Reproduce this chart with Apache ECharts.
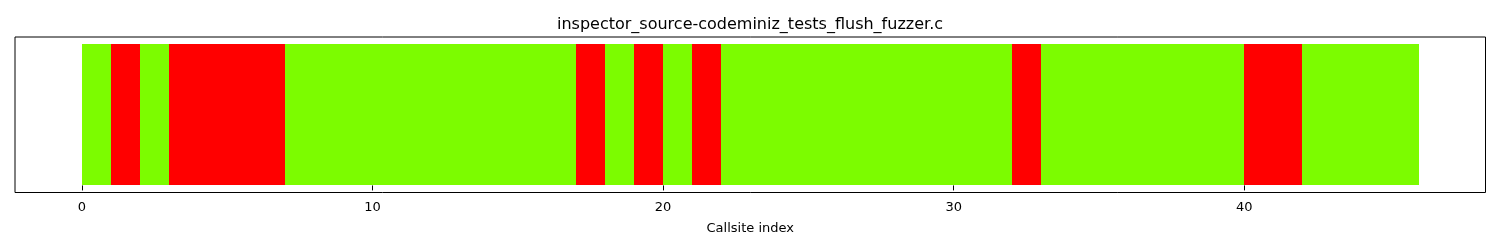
<!DOCTYPE html>
<html>
<head>
<meta charset="utf-8">
<script src="https://cdn.jsdelivr.net/npm/echarts@6/dist/echarts.min.js"></script>
<style>html,body{margin:0;padding:0;background:#fff}#c{width:1500px;height:250px}</style>
</head>
<body>
<div id="c"></div>
<script>
const chartTitle = 'inspector_source-codeminiz_tests_flush_fuzzer.c';
const xAxisLabel = 'Callsite index';
const callsiteIndex = [0,1,2,3,4,5,6,7,8,9,10,11,12,13,14,15,16,17,18,19,20,21,22,23,24,25,26,27,28,29,30,31,32,33,34,35,36,37,38,39,40,41,42,43,44,45];
// 1 = hit (green), 0 = not hit (red)
const hitFlags = [1,0,1,0,0,0,0,1,1,1,1,1,1,1,1,1,1,0,1,0,1,0,1,1,1,1,1,1,1,1,1,1,0,1,1,1,1,1,1,1,0,0,1,1,1,1];
const tickValues = [0,10,20,30,40];

const HIT = '#7cfc00', MISS = '#ff0000';
const data = callsiteIndex.map((x, i) => ({
  value: [x, x + 1],
  itemStyle: { color: hitFlags[i] ? HIT : MISS }
}));

const chart = echarts.init(document.getElementById('c'), null, { renderer: 'canvas' });
const font = 'DejaVu Sans';
chart.setOption({
  animation: false,
  title: {
    text: chartTitle, left: 'center', top: 12,
    textStyle: { fontFamily: font, fontSize: 16, fontWeight: 'normal', color: '#000' }
  },
  grid: { left: 15, right: 14.5, top: 37, bottom: 57.5, show: true, borderColor: '#000', borderWidth: 1, backgroundColor: 'transparent' },
  xAxis: {
    type: 'value', min: -2.3, max: 48.3,
    name: xAxisLabel, nameLocation: 'middle', nameGap: 30,
    nameTextStyle: { fontFamily: font, fontSize: 13, color: '#000' },
    axisLine: { show: false },
    splitLine: { show: false },
    axisTick: { show: true, inside: false, length: 5, lineStyle: { color: '#000' }, customValues: tickValues },
    axisLabel: { fontFamily: font, fontSize: 13, color: '#000', margin: 9, customValues: tickValues }
  },
  yAxis: {
    type: 'value', min: -0.05, max: 1.05,
    show: false, splitLine: { show: false }
  },
  series: [{
    type: 'custom',
    data: data,
    encode: { x: [0, 1] },
    renderItem: function (params, api) {
      const a = api.coord([api.value(0), 1]);
      const b = api.coord([api.value(1), 0]);
      const x0 = Math.round(a[0]), x1 = Math.round(b[0]);
      const y0 = Math.round(a[1]), y1 = Math.round(b[1]);
      return {
        type: 'rect',
        shape: { x: x0, y: y0, width: x1 - x0, height: y1 - y0 },
        style: { fill: api.visual('color') }
      };
    }
  }]
});
</script>
</body>
</html>
